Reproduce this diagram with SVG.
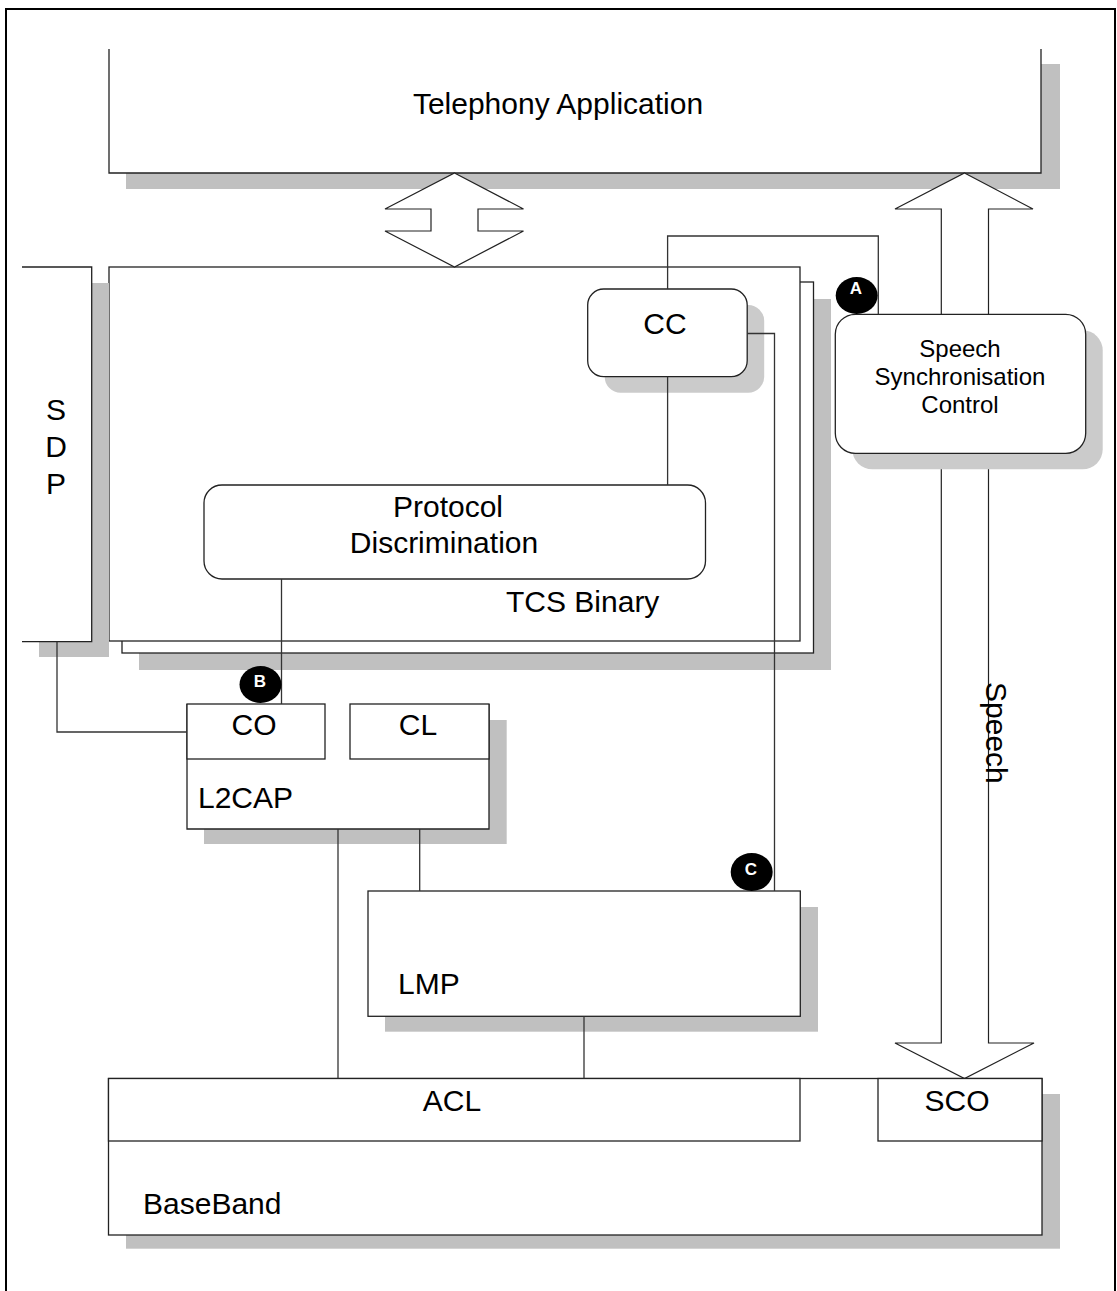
<svg xmlns="http://www.w3.org/2000/svg" width="1117" height="1291" viewBox="0 0 1117 1291">
<style>
text{font-family:"Liberation Sans",Arial,sans-serif;font-size:30px;fill:#000}
.c{text-anchor:middle}
.s{font-size:24px}
.lbl{font-size:17px;font-weight:bold;fill:#fff;text-anchor:middle}
.box{fill:#fff;stroke:#222;stroke-width:1.3}
.open{fill:none;stroke:#222;stroke-width:1.3}
.sh{fill:#c0c0c0}
.sh2{fill:#cbcbcb}
.ln{fill:none;stroke:#333;stroke-width:1.3}
.arr{fill:#fff;stroke:#222;stroke-width:1.2}
</style>
<rect width="1117" height="1291" fill="#fff"/>
<rect x="6" y="9" width="1109" height="1300" fill="none" stroke="#000" stroke-width="2"/>

<g id="telephony">
<rect class="sh" x="126" y="64" width="934" height="125"/>
<rect x="109" y="49" width="932" height="124" fill="#fff"/>
<path class="open" d="M109,49 V173 H1041 V49"/>
<text class="c" x="558" y="114">Telephony Application</text>
</g>

<g id="tcs">
<rect class="sh" x="139" y="299" width="692" height="371"/>
<rect class="box" x="122" y="282" width="691.5" height="371"/>
<rect class="box" x="109" y="267" width="691" height="374"/>
<text x="506" y="612">TCS Binary</text>
</g>

<g id="sdp">
<rect class="sh" x="39" y="283" width="70" height="374"/>
<rect x="22" y="267" width="69.7" height="374.7" fill="#fff"/>
<path class="open" d="M22,267 H91.7 V641.7 H22"/>
<text class="c" x="56" y="420">S</text>
<text class="c" x="56" y="457">D</text>
<text class="c" x="56" y="494">P</text>
</g>

<g id="arrow-app">
<polygon class="arr" points="454.5,173 523.5,209 478,209 478,231 523.5,231 454.5,267 385,231 431,231 431,209 385,209"/>
</g>

<g id="speech-arrow">
<polygon class="arr" points="964.5,173 1033,209 988.5,209 988.5,1043 1034,1043 964.5,1078.5 895,1043 941.3,1043 941.3,209 895,209"/>
<text transform="translate(986,682) rotate(90)">Speech</text>
</g>

<g id="cc">
<rect class="sh2" x="604.7" y="305" width="159.5" height="87.7" rx="16"/>
<rect class="box" x="587.7" y="289" width="159.5" height="87.7" rx="16"/>
<text class="c" x="665" y="334">CC</text>
</g>

<g id="ssc">
<rect class="sh2" x="852.3" y="330.3" width="250.4" height="139" rx="20"/>
<rect class="box" x="835.3" y="314.3" width="250.4" height="139" rx="20"/>
<text class="c s" x="960" y="357">Speech</text>
<text class="c s" x="960" y="385">Synchronisation</text>
<text class="c s" x="960" y="413">Control</text>
</g>

<g id="pd">
<rect class="box" x="204" y="485" width="501.5" height="94" rx="18"/>
<text class="c" x="448" y="517">Protocol</text>
<text class="c" x="444" y="553">Discrimination</text>
</g>

<g id="l2cap">
<rect class="sh" x="204" y="720" width="302.7" height="124"/>
<rect x="187" y="704" width="302" height="125" fill="#fff"/>
<path class="open" d="M187,704 V829 H489 V704"/>
<text x="198" y="808">L2CAP</text>
</g>
<g id="co">
<rect class="box" x="187" y="704" width="138" height="55"/>
<text class="c" x="254" y="735">CO</text>
</g>
<g id="cl">
<rect class="box" x="350" y="704" width="139" height="55"/>
<text class="c" x="418" y="735">CL</text>
</g>

<g id="lmp">
<rect class="sh" x="385" y="907" width="433" height="124.7"/>
<rect class="box" x="368" y="891" width="432.3" height="125.3"/>
<text x="398" y="994">LMP</text>
</g>

<g id="baseband">
<rect class="sh" x="126" y="1094" width="934" height="154.7"/>
<rect class="box" x="108.5" y="1078.5" width="933.5" height="156.5"/>
<text x="143" y="1214">BaseBand</text>
</g>
<g id="acl">
<rect class="box" x="108.5" y="1078.5" width="691.5" height="62.5"/>
<text class="c" x="452" y="1111">ACL</text>
</g>
<g id="sco">
<rect class="box" x="878" y="1078.5" width="164" height="62.5"/>
<text class="c" x="957" y="1111">SCO</text>
</g>

<g id="connectors">
<path class="ln" d="M667.6,289 V236 H878.3 V314.3"/>
<path class="ln" d="M747.2,333.5 H774.5 V891"/>
<path class="ln" d="M667.6,376.7 V485"/>
<path class="ln" d="M281.5,579 V704"/>
<path class="ln" d="M57,641.7 V732 H187"/>
<path class="ln" d="M338,829 V1078.5"/>
<path class="ln" d="M419.7,829 V891"/>
<path class="ln" d="M584,1016.3 V1078.5"/>
</g>

<g id="marker-a">
<ellipse cx="856.7" cy="295.5" rx="21" ry="18.5" fill="#000"/>
<text class="lbl" x="856" y="294">A</text>
</g>
<g id="marker-b">
<ellipse cx="260.5" cy="684.5" rx="21" ry="18.5" fill="#000"/>
<text class="lbl" x="260" y="687">B</text>
</g>
<g id="marker-c">
<ellipse cx="751.7" cy="872" rx="21" ry="19" fill="#000"/>
<text class="lbl" x="751" y="875">C</text>
</g>
</svg>
